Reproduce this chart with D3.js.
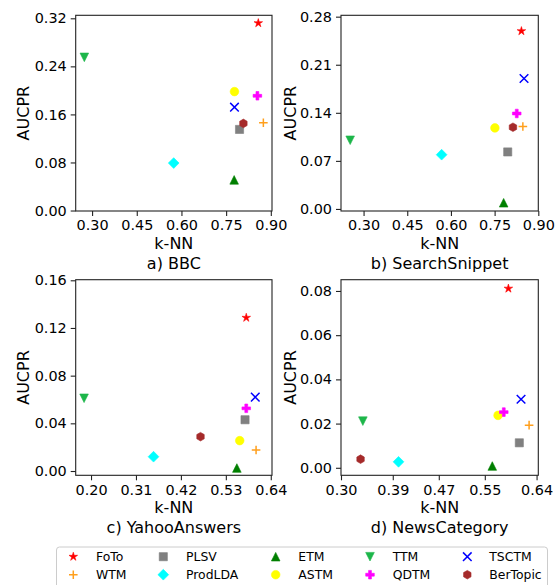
<!DOCTYPE html>
<html><head><meta charset="utf-8">
<script src="https://cdn.jsdelivr.net/npm/d3@7"></script>
<style>
body{margin:0;background:#fff;}
text{font-family:"DejaVu Sans",sans-serif;fill:#000;}
</style></head>
<body><svg id="c" width="559" height="585"></svg>
<script>
// ---- data ----
const models = ["FoTo","WTM","PLSV","ProdLDA","ETM","ASTM","TTM","QDTM","TSCTM","BerTopic"];
const colors = ["#ff0000","#ff9f1c","#808080","#00ffff","#007f00","#ffff00","#1db64a","#ff00ff","#0000ff","#a52a2a"];
const shapes = ["star","plus","square","diamond","triUp","circle","triDown","plusFilled","cross","hexagon"];

const datasets = ["a) BBC","b) SearchSnippet","c) YahooAnswers","d) NewsCategory"];
// k-NN (x) and AUCPR (y) per model, in order of `models`
const bbcX   = [0.858,0.875,0.795,0.574,0.777,0.778,0.274,0.855,0.778,0.808];
const bbcY   = [0.312,0.146,0.135,0.079,0.051,0.198,0.255,0.191,0.172,0.145];
const snipX  = [0.842,0.847,0.795,0.568,0.781,0.751,0.254,0.826,0.851,0.813];
const snipY  = [0.259,0.120,0.083,0.079,0.009,0.118,0.100,0.139,0.190,0.119];
const yahooX = [0.580,0.604,0.577,0.353,0.557,0.564,0.183,0.580,0.602,0.468];
const yahooY = [0.1286,0.0176,0.043,0.012,0.0025,0.0255,0.061,0.0526,0.062,0.0288];
const newsX  = [0.591,0.627,0.610,0.400,0.563,0.573,0.338,0.583,0.613,0.334];
const newsY  = [0.0811,0.0193,0.0113,0.0027,0.0008,0.0237,0.0211,0.0252,0.031,0.0039];

const xTicks = [[0.30,0.45,0.60,0.75,0.90],[0.30,0.45,0.60,0.75,0.90],[0.20,0.31,0.42,0.53,0.64],[0.30,0.39,0.47,0.55,0.64]];
const yTicks = [[0,0.08,0.16,0.24,0.32],[0,0.07,0.14,0.21,0.28],[0,0.04,0.08,0.12,0.16],[0,0.02,0.04,0.06,0.08]];
const xDomains = [[0.245,0.904],[0.2225,0.90],[0.1625,0.643],[0.30,0.643]];
const yDomains = [[-0.0008,0.325],[-0.003,0.282],[-0.0036,0.1605],[-0.0034,0.0851]];
const allX = [bbcX,snipX,yahooX,newsX];
const allY = [bbcY,snipY,yahooY,newsY];

// ---- layout ----
const panels = [
  {l:75.7,r:272,t:15.3,b:211,ylab:23.5},
  {l:341,r:538.3,t:15.3,b:211,ylab:290},
  {l:75.7,r:272,t:279.7,b:475.3,ylab:23.5},
  {l:341,r:538.3,t:279.7,b:475.3,ylab:290}
];
const MS = 8.6;

function markerPath(shape, s){
  const h = s/2;
  const poly = pts => "M"+pts.map(p=>p[0].toFixed(2)+","+p[1].toFixed(2)).join("L")+"Z";
  switch(shape){
    case "star": {
      const pts=[]; const ri=h*0.381966;
      for(let i=0;i<10;i++){const a=-Math.PI/2+i*Math.PI/5;const r=i%2?ri:h*1.05;pts.push([r*Math.cos(a),r*Math.sin(a)]);}
      return poly(pts);}
    case "square": return poly([[-h*0.95,-h*0.95],[h*0.95,-h*0.95],[h*0.95,h*0.95],[-h*0.95,h*0.95]]);
    case "diamond": {const d=h*1.25; return poly([[0,-d],[d,0],[0,d],[-d,0]]);}
    case "triUp": return poly([[0,-h],[h,h],[-h,h]]);
    case "triDown": return poly([[0,h],[h,-h],[-h,-h]]);
    case "circle": return d3.symbol(d3.symbolCircle, Math.PI*h*h)();
    case "hexagon": {const pts=[];for(let i=0;i<6;i++){const a=-Math.PI/2+i*Math.PI/3;pts.push([h*Math.cos(a),h*Math.sin(a)]);}return poly(pts);}
    case "plusFilled": {const a=s/6,b=h;return poly([[-a,-b],[a,-b],[a,-a],[b,-a],[b,a],[a,a],[a,b],[-a,b],[-a,a],[-b,a],[-b,-a],[-a,-a]]);}
    case "plus": return `M${-h},0L${h},0M0,${-h}L0,${h}`;
    case "cross": return `M${-h},${-h}L${h},${h}M${-h},${h}L${h},${-h}`;
  }
}
function drawMarker(g, i, x, y){
  const isLine = shapes[i]==="plus"||shapes[i]==="cross";
  g.append("path").attr("d", markerPath(shapes[i], MS))
    .attr("transform", `translate(${x},${y})`)
    .attr("fill", isLine? "none" : colors[i])
    .attr("stroke", colors[i])
    .attr("stroke-width", isLine?1.5:0.6);
}

const svg = d3.select("#c");
panels.forEach((p,k)=>{
  const x = d3.scaleLinear().domain(xDomains[k]).range([p.l,p.r]);
  const y = d3.scaleLinear().domain(yDomains[k]).range([p.b,p.t]);
  const g = svg.append("g");
  // points
  models.forEach((m,i)=>drawMarker(g,i,x(allX[k][i]),y(allY[k][i])));
  // frame
  g.append("rect").attr("x",p.l).attr("y",p.t).attr("width",p.r-p.l).attr("height",p.b-p.t)
    .attr("fill","none").attr("stroke","#222").attr("stroke-width",1.1);
  // axes
  const xa = d3.axisBottom(x).tickValues(xTicks[k]).tickFormat(d3.format(".2f")).tickSize(5).tickPadding(4);
  const ya = d3.axisLeft(y).tickValues(yTicks[k]).tickFormat(d3.format(".2f")).tickSize(5).tickPadding(4);
  const gx = g.append("g").attr("transform",`translate(0,${p.b})`).call(xa);
  const gy = g.append("g").attr("transform",`translate(${p.l},0)`).call(ya);
  [gx,gy].forEach(a=>{
    a.select(".domain").remove();
    a.selectAll("line").attr("stroke","#222").attr("stroke-width",1.1);
    a.selectAll("text").style("font-family","DejaVu Sans").style("font-size","14.4px").attr("fill","#000");
  });
  const cx=(p.l+p.r)/2, cy=(p.t+p.b)/2;
  g.append("text").attr("x",cx).attr("y",p.b+38).attr("text-anchor","middle").style("font-size","16px").text("k-NN");
  g.append("text").attr("x",cx).attr("y",p.b+58).attr("text-anchor","middle").style("font-size","16px").text(datasets[k]);
  g.append("text").attr("transform",`translate(${p.ylab},${cy}) rotate(-90)`).attr("text-anchor","middle")
    .attr("dy","0.35em").style("font-size","16px").text("AUCPR");
});

// legend
const lg = svg.append("g");
lg.append("rect").attr("x",56.5).attr("y",547).attr("width",491).attr("height",42).attr("rx",3)
  .attr("fill","#fff").attr("stroke","#cccccc").attr("stroke-width",1);
const colMarkerX = [73.3,163.3,275.7,370,467.3];
const colTextX = [96,186,298.3,392.7,489.3];
const rowY = [556.7,574.7];
models.forEach((m,i)=>{
  const col = Math.floor(i/2), row = i%2;
  drawMarker(lg,i,colMarkerX[col],rowY[row]);
  lg.append("text").attr("x",colTextX[col]).attr("y",rowY[row]).attr("dy","0.35em")
    .style("font-size","12.4px").text(m);
});
</script></body></html>
